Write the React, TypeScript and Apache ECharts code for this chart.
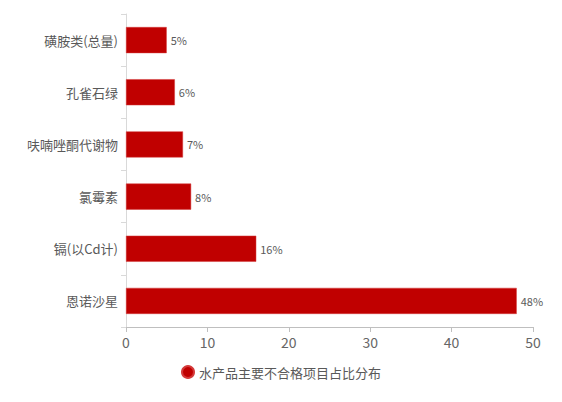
import React, { useEffect, useRef } from "react";
import * as echarts from "echarts";

const categories = ["恩诺沙星", "镉(以Cd计)", "氯霉素", "呋喃唑酮代谢物", "孔雀石绿", "磺胺类(总量)"];
const values = [48, 16, 8, 7, 6, 5];
const seriesName = "水产品主要不合格项目占比分布";

export default function App() {
  const ref = useRef<HTMLDivElement>(null);
  useEffect(() => {
    const chart = echarts.init(ref.current!, null, { renderer: "svg" });
    const font = "'Microsoft YaHei', 'Noto Sans CJK SC', sans-serif";
    chart.setOption({
      animation: false,
      textStyle: { fontFamily: font },
      legend: {
        bottom: 10,
        left: "center",
        icon: "circle",
        itemWidth: 12,
        itemHeight: 12,
        textStyle: { color: "#595959", fontSize: 13, fontFamily: font },
        data: [seriesName],
      },
      grid: { left: 118, right: 21, top: 6, bottom: 67 },
      xAxis: {
        type: "value",
        min: 0,
        max: 50,
        interval: 10,
        axisLine: { show: true, lineStyle: { color: "#bfbfbf" } },
        axisTick: { show: true, lineStyle: { color: "#bfbfbf" } },
        splitLine: { show: false },
        axisLabel: { color: "#666666", fontSize: 14, fontFamily: font, margin: 8 },
      },
      yAxis: {
        type: "category",
        data: categories,
        axisLine: { show: true, lineStyle: { color: "#d9d9d9" } },
        axisTick: { show: true, lineStyle: { color: "#d9d9d9" } },
        axisLabel: { color: "#595959", fontSize: 13, fontFamily: font, margin: 8 },
      },
      series: [
        {
          name: seriesName,
          type: "bar",
          data: values,
          barWidth: "50%",
          itemStyle: { color: "#c00000", borderColor: "#d43a3a", borderWidth: 0.5 },
          label: {
            show: true,
            position: "right",
            formatter: "{c}%",
            color: "#595959",
            fontSize: 11,
            fontFamily: font,
            distance: 4,
          },
        },
      ],
    });
    return () => chart.dispose();
  }, []);
  return <div ref={ref} style={{ width: 546, height: 386 }} />;
}
